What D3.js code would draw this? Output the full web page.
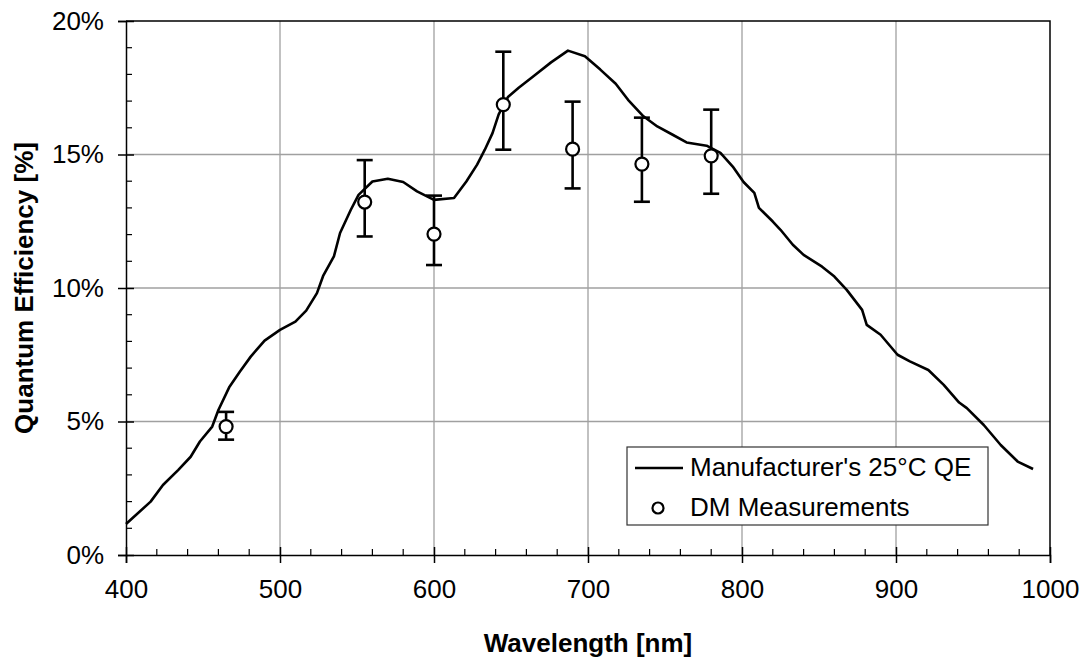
<!DOCTYPE html>
<html>
<head>
<meta charset="utf-8">
<script src="https://cdnjs.cloudflare.com/ajax/libs/d3/7.8.5/d3.min.js"></script>
<style>
    body { margin: 0; background: #fff; }
    text { font-family: "Liberation Sans", Arial, sans-serif; fill: #000; }
</style>
</head>
<body>
<div id="chart-area"></div>
<script>

// Manufacturer's QE curve (wavelength in nm, QE in %)
let qeWavelength = [400, 416, 424, 434, 442, 448, 456, 460, 467, 474, 481, 490, 500, 510, 517, 524, 528, 535, 539, 546,
    551, 560, 570, 580, 589, 600, 613, 621, 628, 633, 638, 642, 648, 655, 665, 676, 687, 698, 708, 718,
    726, 736, 745, 755, 764, 777, 786, 794, 801, 808, 811, 820, 825, 833, 840, 852, 860, 868, 878, 881,
    890, 901, 909, 921, 931, 941, 946, 957, 968, 979, 989];
let qeValues = [1.16, 2.0, 2.62, 3.19, 3.68, 4.25, 4.81, 5.43, 6.28, 6.87, 7.43, 8.03, 8.43, 8.74, 9.15, 9.81, 10.45, 11.18, 12.06, 12.93,
    13.49, 13.99, 14.09, 13.97, 13.62, 13.3, 13.37, 13.99, 14.62, 15.18, 15.8, 16.5, 17.15, 17.5, 17.95, 18.45, 18.89, 18.68, 18.18, 17.65,
    17.05, 16.43, 16.05, 15.74, 15.45, 15.33, 15.06, 14.55, 13.97, 13.56, 13.0, 12.49, 12.18, 11.62, 11.24, 10.8, 10.43, 9.93, 9.18, 8.62,
    8.25, 7.5, 7.25, 6.93, 6.37, 5.71, 5.5, 4.87, 4.12, 3.5, 3.22];

// DM measurements with error bars
let dmWavelength = [465, 555, 600, 645, 690, 735, 780];
let dmValues = [4.81, 13.22, 12.02, 16.87, 15.2, 14.64, 14.95];
let dmLow = [4.32, 11.93, 10.86, 15.18, 13.73, 13.23, 13.53];
let dmHigh = [5.36, 14.79, 13.46, 18.85, 16.98, 16.38, 16.68];

// Tick labels
let xTicks = [400, 500, 600, 700, 800, 900, 1000];
let yTicks = [0, 5, 10, 15, 20];

let seriesNames = ["Manufacturer's 25°C QE", "DM Measurements"];


// SVG drawing area
let margin = {top: 21, right: 38, bottom: 108, left: 126};

let width = 1088 - margin.left - margin.right,
    height = 663 - margin.top - margin.bottom;

let svg = d3.select("#chart-area").append("svg")
    .attr("width", width + margin.left + margin.right)
    .attr("height", height + margin.top + margin.bottom)
    .append("g")
    .attr("transform", "translate(" + margin.left + "," + margin.top + ")");

// Scales
let x = d3.scaleLinear()
    .domain([400, 1000])
    .range([0, width]);

let y = d3.scaleLinear()
    .domain([0, 20])
    .range([height, 0]);

// Gridlines
svg.append("g").selectAll("line")
    .data(xTicks.slice(1, -1))
    .enter().append("line")
    .attr("x1", d => x(d)).attr("x2", d => x(d))
    .attr("y1", 0).attr("y2", height)
    .attr("stroke", "#a0a0a0")
    .attr("stroke-width", 1.3);

svg.append("g").selectAll("line")
    .data(yTicks.slice(1, -1))
    .enter().append("line")
    .attr("x1", 0).attr("x2", width)
    .attr("y1", d => y(d)).attr("y2", d => y(d))
    .attr("stroke", "#a0a0a0")
    .attr("stroke-width", 1.3);

// Minor ticks (inside the plot)
svg.append("g").selectAll("line")
    .data(d3.range(420, 1000, 20).filter(d => d % 100 !== 0))
    .enter().append("line")
    .attr("x1", d => x(d)).attr("x2", d => x(d))
    .attr("y1", height).attr("y2", height - 6)
    .attr("stroke", "#000")
    .attr("stroke-width", 1.2);

svg.append("g").selectAll("line")
    .data(d3.range(1, 20).filter(d => d % 5 !== 0))
    .enter().append("line")
    .attr("x1", 0).attr("x2", 6)
    .attr("y1", d => y(d)).attr("y2", d => y(d))
    .attr("stroke", "#000")
    .attr("stroke-width", 1.2);

// Axes
let xAxis = d3.axisBottom()
    .scale(x)
    .tickValues(xTicks)
    .tickFormat(d3.format("d"))
    .tickSize(8)
    .tickPadding(17);

let yAxis = d3.axisLeft()
    .scale(y)
    .tickValues(yTicks)
    .tickFormat(d => d + "%")
    .tickSize(8)
    .tickPadding(14);

let xAxisGroup = svg.append("g")
    .attr("class", "x-axis axis")
    .attr("transform", "translate(0," + height + ")")
    .call(xAxis);

let yAxisGroup = svg.append("g")
    .attr("class", "y-axis axis")
    .call(yAxis);

// major ticks cross the axis line
xAxisGroup.selectAll(".tick line").attr("y1", -8).attr("stroke-width", 1.5);
yAxisGroup.selectAll(".tick line").attr("x1", 8).attr("stroke-width", 1.5);

[xAxisGroup, yAxisGroup].forEach(g => {
    g.select(".domain").attr("stroke-width", 1.5);
    g.selectAll(".tick text")
        .style("font-size", "26px")
        .style("font-family", "'Liberation Sans', Arial, sans-serif");
});

// Top and right frame
svg.append("path")
    .attr("d", "M0,0H" + width + "V" + height)
    .attr("fill", "none")
    .attr("stroke", "#000")
    .attr("stroke-width", 1.5);

// Axis titles
svg.append("text")
    .attr("x", width / 2)
    .attr("y", height + 97)
    .attr("text-anchor", "middle")
    .style("font-size", "26px")
    .style("font-weight", "bold")
    .text("Wavelength [nm]");

svg.append("text")
    .attr("transform", "translate(" + (33 - margin.left) + "," + (height / 2) + ") rotate(-90)")
    .attr("text-anchor", "middle")
    .style("font-size", "26px")
    .style("font-weight", "bold")
    .text("Quantum Efficiency [%]");

// Line function
let qeData = qeWavelength.map((w, i) => ({w: w, v: qeValues[i]}));

let line = d3.line()
    .x(d => x(d.w))
    .y(d => y(d.v))
    .curve(d3.curveLinear);

svg.append("path")
    .datum(qeData)
    .attr("d", line)
    .attr("fill", "none")
    .attr("stroke", "#000")
    .attr("stroke-width", 2.6)
    .attr("stroke-linejoin", "round");

// Error bars
let dmData = dmWavelength.map((w, i) => ({w: w, v: dmValues[i], lo: dmLow[i], hi: dmHigh[i]}));

let bars = svg.append("g").selectAll("g")
    .data(dmData)
    .enter().append("g")
    .attr("stroke", "#000")
    .attr("stroke-width", 2.6);

bars.append("line")
    .attr("x1", d => x(d.w)).attr("x2", d => x(d.w))
    .attr("y1", d => y(d.lo)).attr("y2", d => y(d.hi));

bars.append("line")
    .attr("x1", d => x(d.w) - 8).attr("x2", d => x(d.w) + 8)
    .attr("y1", d => y(d.hi)).attr("y2", d => y(d.hi));

bars.append("line")
    .attr("x1", d => x(d.w) - 8).attr("x2", d => x(d.w) + 8)
    .attr("y1", d => y(d.lo)).attr("y2", d => y(d.lo));

bars.append("circle")
    .attr("cx", d => x(d.w))
    .attr("cy", d => y(d.v))
    .attr("r", 6.5)
    .attr("fill", "#fff")
    .attr("stroke-width", 2.2);

// Legend
let legend = svg.append("g")
    .attr("transform", "translate(" + (627 - margin.left) + "," + (447 - margin.top) + ")");

legend.append("rect")
    .attr("width", 361)
    .attr("height", 78)
    .attr("fill", "#fff")
    .attr("stroke", "#333")
    .attr("stroke-width", 1.2);

legend.append("line")
    .attr("x1", 8).attr("x2", 56)
    .attr("y1", 21).attr("y2", 21)
    .attr("stroke", "#000")
    .attr("stroke-width", 2.6);

legend.append("circle")
    .attr("cx", 31).attr("cy", 61)
    .attr("r", 5.5)
    .attr("fill", "#fff")
    .attr("stroke", "#000")
    .attr("stroke-width", 2.2);

legend.selectAll("text")
    .data(seriesNames)
    .enter().append("text")
    .attr("x", 63)
    .attr("y", (d, i) => 29 + i * 40)
    .style("font-size", "26px")
    .text(d => d);

</script>
</body>
</html>
